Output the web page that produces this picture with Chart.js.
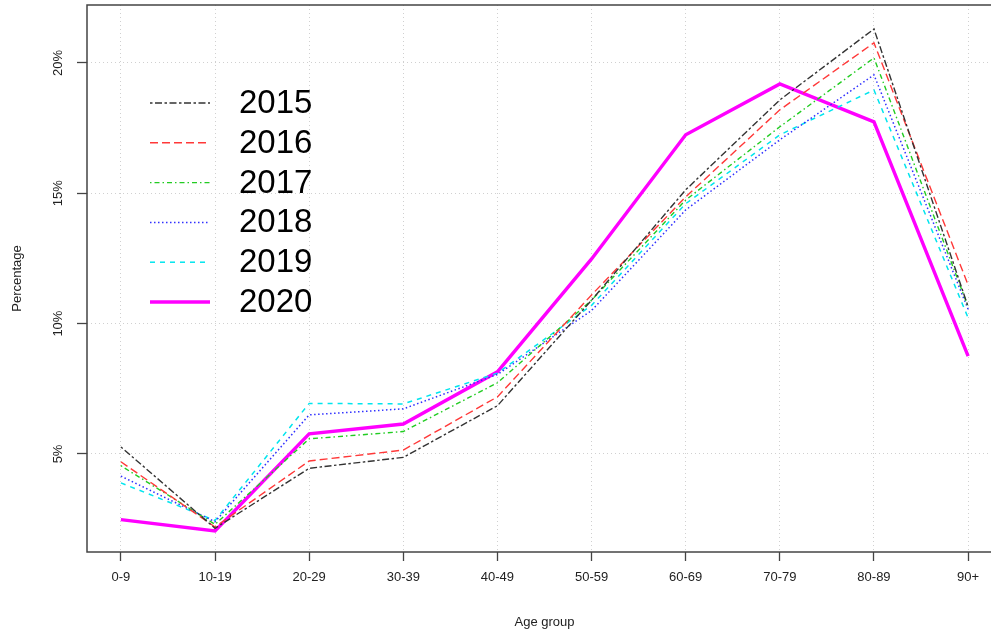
<!DOCTYPE html>
<html><head><meta charset="utf-8">
<script src="https://cdn.jsdelivr.net/npm/chart.js@4"></script>
<style>html,body{margin:0;padding:0;overflow:hidden;background:#fff}#wrap{width:1010px;height:634px}</style>
</head><body><div id="wrap"><canvas id="c" width="1010" height="634"></canvas></div>
<script>
const categories = ['0-9','10-19','20-29','30-39','40-49','50-59','60-69','70-79','80-89','90+'];
const years = ['2015','2016','2017','2018','2019','2020'];
const yTicks = [5, 10, 15, 20];
const v2015 = [5.27, 2.15, 4.45, 4.87, 6.85, 10.9, 15.13, 18.58, 21.30, 10.65];
const v2016 = [4.70, 2.20, 4.73, 5.15, 7.19, 11.1, 14.86, 18.20, 20.77, 11.48];
const v2017 = [4.55, 2.30, 5.58, 5.86, 7.73, 10.9, 14.74, 17.55, 20.19, 10.65];
const v2018 = [4.15, 2.40, 6.50, 6.73, 8.05, 10.5, 14.36, 17.05, 19.54, 10.55];
const v2019 = [3.89, 2.45, 6.94, 6.92, 8.10, 10.7, 14.60, 17.24, 18.96, 10.22];
const v2020 = [2.48, 2.05, 5.77, 6.15, 8.15, 12.48, 17.24, 19.19, 17.74, 8.75];

const seriesValues = [v2015, v2016, v2017, v2018, v2019, v2020];
const styles = [
  {c:'#333333', w:1.4, d:[2.5,2.5,7,2.5]},
  {c:'#ff3838', w:1.4, d:[8,4]},
  {c:'#22cc22', w:1.4, d:[1.5,3,5,3]},
  {c:'#3030ff', w:1.5, d:[1.5,2.5]},
  {c:'#00e5ee', w:1.5, d:[5,5]},
  {c:'#ff00ff', w:3.4, d:[]}
];
const datasets = years.map((y, k) => ({
  label: y,
  data: categories.map((c, i) => ({x: i, y: seriesValues[k][i]})),
  borderColor: styles[k].c,
  borderWidth: styles[k].w,
  borderDash: styles[k].d,
  pointRadius: 0,
  tension: 0,
  fill: false
}));

const FONT = "'Liberation Sans', Arial, sans-serif";

const boxPlugin = {
  id: 'box',
  beforeDatasetsDraw(chart) {
    const {ctx, chartArea: a} = chart;
    ctx.save();
    ctx.strokeStyle = '#444';
    ctx.lineWidth = 1.5;
    ctx.setLineDash([]);
    ctx.strokeRect(a.left, a.top, a.right - a.left, a.bottom - a.top);
    ctx.restore();
  }
};
const legendPlugin = {
  id: 'rlegend',
  afterDatasetsDraw(chart) {
    const {ctx} = chart;
    ctx.save();
    chart.data.datasets.forEach((ds, i) => {
      const y = 103 + i * 39.8;
      ctx.beginPath();
      ctx.strokeStyle = ds.borderColor;
      ctx.lineWidth = ds.borderWidth;
      ctx.setLineDash(ds.borderDash);
      ctx.moveTo(150, y); ctx.lineTo(210, y);
      ctx.stroke();
      ctx.setLineDash([]);
      ctx.fillStyle = '#000';
      ctx.font = '33px ' + FONT;
      ctx.textBaseline = 'middle';
      ctx.textAlign = 'left';
      ctx.fillText(ds.label, 239, y + 1);
    });
    ctx.restore();
  }
};

new Chart(document.getElementById('c'), {
  type: 'line',
  data: { datasets },
  plugins: [boxPlugin, legendPlugin],
  options: {
    responsive: false,
    animation: false,
    layout: { padding: { top: 5, right: 8, left: 0, bottom: 0 } },
    plugins: { legend: { display: false }, tooltip: { enabled: false } },
    scales: {
      x: {
        type: 'linear',
        min: -0.36, max: 9.36,
        afterBuildTicks: s => { s.ticks = categories.map((c, i) => ({value: i})); },
        afterFit: s => { s.height = 82; s.paddingLeft = 0; s.paddingRight = 0; },
        grid: { color: '#d0d0d0', lineWidth: 1, tickLength: 9, tickColor: '#444', tickWidth: 1.3, tickBorderDash: [0, 0] },
        border: { display: false, dash: [1, 3] },
        ticks: { color: '#222', font: { family: FONT, size: 13 }, padding: 9, maxRotation: 0, autoSkip: false,
                 callback: v => categories[v] },
        title: { display: true, text: 'Age group', color: '#222', font: { family: FONT, size: 13 }, padding: { top: 0, bottom: 4 } }
      },
      y: {
        type: 'linear',
        min: 1.24, max: 22.22,
        afterBuildTicks: s => { s.ticks = yTicks.map(v => ({value: v})); },
        afterFit: s => { s.width = 87; s.paddingTop = 0; s.paddingBottom = 0; },
        grid: { color: '#d0d0d0', lineWidth: 1, tickLength: 10, tickColor: '#444', tickWidth: 1.3, tickBorderDash: [0, 0] },
        border: { display: false, dash: [1, 3] },
        ticks: { color: '#222', font: { family: FONT, size: 13 }, padding: 6, minRotation: 90, maxRotation: 90, crossAlign: 'center',
                 callback: v => v + '%' },
        title: { display: true, text: 'Percentage', color: '#222', font: { family: FONT, size: 13 }, padding: { top: 10, bottom: 0 } }
      }
    }
  }
});
</script></body></html>
